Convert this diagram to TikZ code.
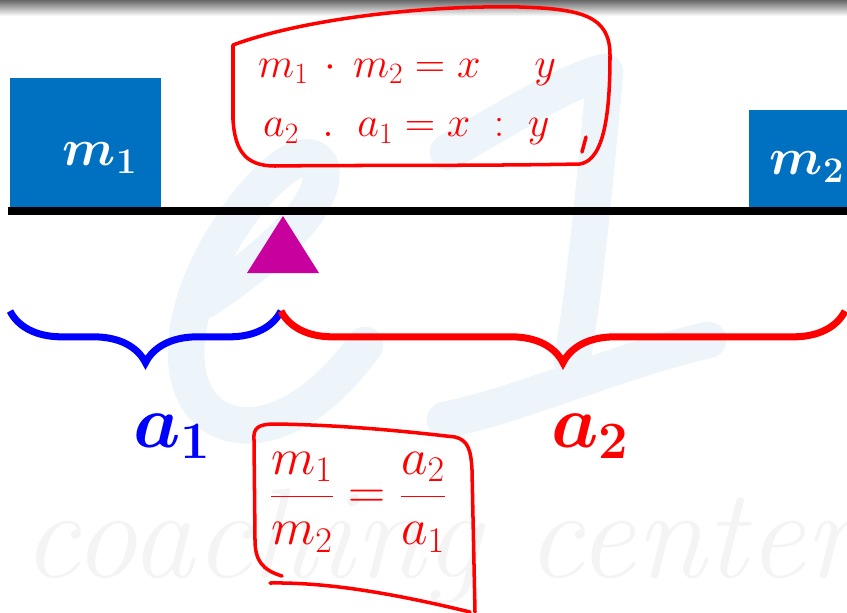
\RequirePackage{fix-cm}
\documentclass[tikz,border=0pt]{standalone}
\usepackage{amsmath,bm}
\usepackage{tikz}
\usetikzlibrary{positioning,calc,decorations.pathreplacing}
\definecolor{massblue}{HTML}{0070C0}
\definecolor{pivot}{HTML}{C8009E}
\definecolor{inkred}{HTML}{FF0000}
\definecolor{inkblue}{HTML}{0000FF}
\definecolor{markblue}{HTML}{EDF5FB}
\definecolor{markgray}{HTML}{F4F4F4}

\begin{document}
\begin{tikzpicture}[
  x=0.03cm,y=-0.03cm,
  massbox/.style={fill=massblue,inner sep=0pt,anchor=north west},
  masslabel/.style={text=white,font=\fontsize{44}{50}\selectfont,inner sep=0pt},
  armlabel/.style={font=\fontsize{64}{70}\selectfont,inner sep=0pt},
  span/.style={decorate,decoration={brace,mirror,amplitude=1.55cm},line width=6pt},
  ink/.style={draw=inkred,line width=3pt,line cap=round,line join=round},
  inktext/.style={text=inkred,font=\fontsize{36}{42}\selectfont,inner sep=0pt},
  logostroke/.style={draw=markblue,line width=1.1cm,line cap=round,line join=round}
]
\useasboundingbox (0,0) rectangle (847,612);
% shadow along the top edge
\shade[top color=black!60,bottom color=white] (0,0) rectangle (847,16);

% faint watermark
\draw[logostroke] (205,300) .. controls (280,250) and (330,200) .. (320,165)
  .. controls (300,130) and (220,220) .. (195,300)
  .. controls (170,380) and (200,430) .. (255,425)
  .. controls (300,420) and (340,380) .. (365,345);
\draw[logostroke] (448,152) .. controls (520,110) and (570,80) .. (605,72)
  (605,72) .. controls (595,180) and (585,290) .. (572,360)
  (445,420) .. controls (520,405) and (620,360) .. (708,340);
\node[text=markgray,font=\fontsize{109}{120}\selectfont\itshape,anchor=base west,inner sep=0pt]
  (brand) at (22,577) {coaching center};

% masses, beam and fulcrum
\node[massbox,minimum width=4.53cm,minimum height=3.9cm] (box1) at (10,78) {};
\node[massbox,minimum width=2.94cm,minimum height=2.94cm] (box2) at (749,110) {};
\node[masslabel] (m1) at (100,158) {$\bm{m}_{\mathbf{1}}$};
\node[masslabel] (m2) at (807,167) {$\bm{m}_{\mathbf{2}}$};
\coordinate (beamL) at (8,211);
\coordinate (beamR) at (847,211);
\draw[line width=6pt] (beamL) -- (beamR);
\coordinate (fulcrum) at (283,216);
\fill[pivot] (fulcrum) -- ++(36,57) -- ++(-72,0) -- cycle;

% arms
\coordinate (arm1L) at (10,311);
\coordinate (arm1R) at (281,311);
\coordinate (arm2R) at (845,311);
\draw[span,inkblue] (arm1L) -- (arm1R);
\draw[span,inkred] (arm1R) -- (arm2R);
\node[armlabel,text=inkblue] (a1) at (172,436) {$\bm{a}_{\mathbf{1}}$};
\node[armlabel,text=inkred] (a2) at (590,436) {$\bm{a}_{\mathbf{2}}$};

% handwritten notes
\draw[ink] (233,45) .. controls (300,20) and (420,5) .. (520,7)
  .. controls (580,9) and (610,15) .. (610,55)
  .. controls (610,110) and (605,160) .. (580,164)
  .. controls (480,166) and (350,165) .. (275,166)
  .. controls (245,166) and (235,150) .. (233,120) -- cycle;
\draw[ink] (582,152) -- (586,137);
\node[inktext,anchor=west] (eq1) at (258,72) {$m_1\,\cdot\,m_2 = x\quad\; y$};
\node[inktext,anchor=west] (eq2) at (263,132) {$a_2\;\;.\;\;a_1 = x\;:\;y$};

\draw[ink] (282,576) .. controls (262,570) and (255,560) .. (255,540)
  -- (254,440) .. controls (253,428) and (258,424) .. (275,424)
  .. controls (350,425) and (420,433) .. (455,437)
  .. controls (468,440) and (471,450) .. (472,470)
  -- (475,612);
\draw[ink] (270,583) .. controls (330,582) and (400,595) .. (470,612);
\node[inktext,font=\fontsize{44}{50}\selectfont] (ratio) at (358,502)
  {$\dfrac{m_1}{m_2}=\dfrac{a_2}{a_1}$};
\end{tikzpicture}
\end{document}
